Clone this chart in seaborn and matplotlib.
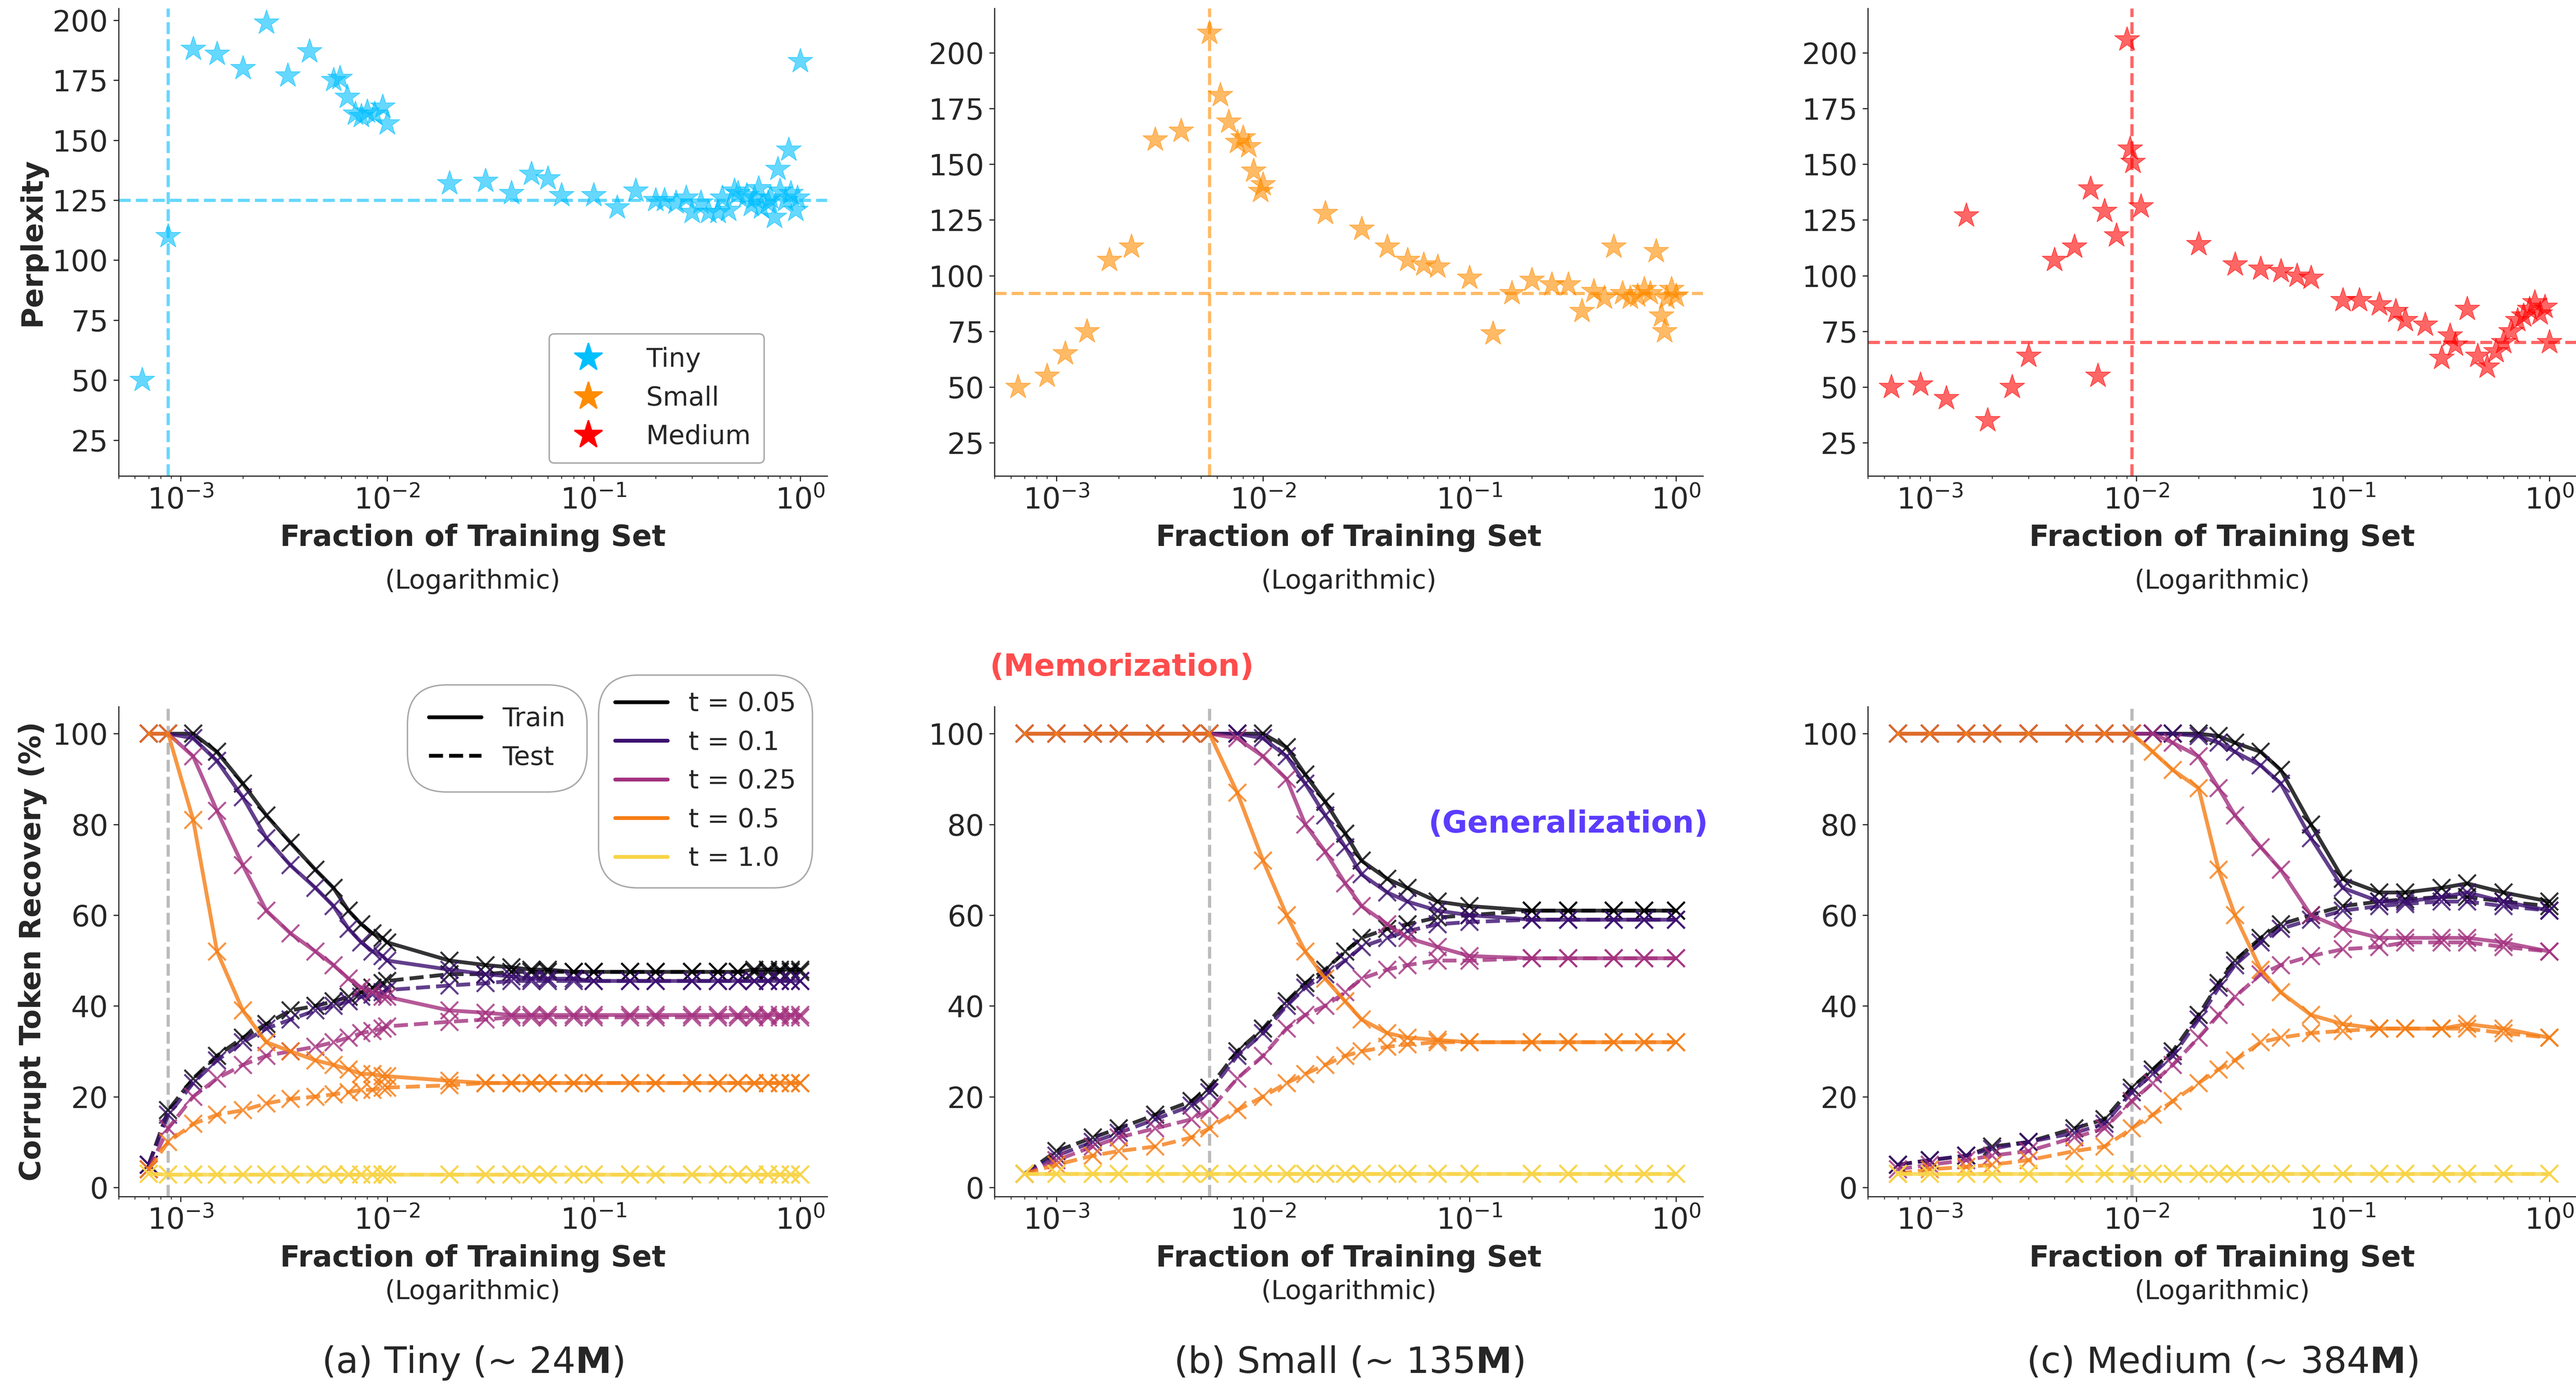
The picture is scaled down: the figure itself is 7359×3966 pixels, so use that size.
import numpy as np
import pandas as pd
import matplotlib
matplotlib.use("Agg")
import matplotlib.pyplot as plt
import seaborn as sns
from matplotlib.lines import Line2D

sns.set_style("ticks")
plt.rcParams['font.family'] = ['DejaVu Sans']

# ---------------- Top row: perplexity scatter ----------------
tiny_x = [6.5e-4,8.7e-4,1.15e-3,1.5e-3,2e-3,2.6e-3,3.3e-3,4.2e-3,5.5e-3,5.9e-3,6.4e-3,7e-3,7.5e-3,8e-3,8.7e-3,9.5e-3,1e-2,
          2e-2,3e-2,4e-2,5e-2,6e-2,7e-2,0.1,0.13,0.16,0.2,0.22,0.25,0.28,0.3,0.33,0.36,0.4,0.42,0.45,0.48,0.5,0.55,0.58,
          0.6,0.63,0.65,0.7,0.72,0.75,0.78,0.8,0.85,0.88,0.9,0.95,0.97,1.0]
tiny_y = [50,110,188,186,180,199,177,187,175,176,168,161,160,162,161,164,157,
          132,133,128,136,134,127,127,122,129,125,125,124,126,120,124,120,120,126,121,129,128,127,123,
          126,130,122,124,126,118,138,129,125,146,128,121,126,183]
small_x = [6.5e-4,9e-4,1.1e-3,1.4e-3,1.8e-3,2.3e-3,3e-3,4e-3,5.5e-3,6.2e-3,6.8e-3,7.5e-3,8e-3,8.5e-3,9e-3,9.7e-3,1e-2,
           2e-2,3e-2,4e-2,5e-2,6e-2,7e-2,0.1,0.13,0.16,0.2,0.25,0.3,0.35,0.4,0.45,0.5,0.55,0.6,0.65,0.7,0.75,0.8,0.85,0.88,0.9,0.95,1.0]
small_y = [50,55,65,75,107,113,161,165,209,181,169,160,162,158,147,138,141,
           128,121,113,107,105,104,99,74,92,98,96,96,84,93,90,113,92,90,91,94,92,111,82,75,90,94,91]
medium_x = [6.5e-4,9e-4,1.2e-3,1.5e-3,1.9e-3,2.5e-3,3e-3,4e-3,5e-3,6e-3,6.5e-3,7e-3,8e-3,9e-3,9.3e-3,9.6e-3,1.05e-2,
            2e-2,3e-2,4e-2,5e-2,6e-2,7e-2,0.1,0.12,0.15,0.18,0.2,0.25,0.3,0.33,0.35,0.4,0.45,0.5,0.55,0.6,0.65,0.7,0.75,0.8,0.85,0.9,0.95,1.0]
medium_y = [50,51,45,127,35,50,64,107,113,139,55,129,118,206,157,151,131,
            114,105,103,102,100,99,89,89,87,84,80,78,63,73,69,85,64,59,66,70,75,80,82,85,88,83,86,70]
ref_h = [125, 92, 70]
ref_v = [8.7e-4, 5.5e-3, 9.5e-3]
model_names = ["Tiny", "Small", "Medium"]
model_colors = ["#00bfff", "#ff8c00", "#ff0000"]

# ---------------- Bottom row: corrupt token recovery ----------------
temps = ["0.05", "0.1", "0.25", "0.5", "1.0"]
t_colors = ["#000004", "#3b0f70", "#a3307e", "#f57d15", "#f8d447"]

tiny_grid = [7e-4,8.7e-4,1.15e-3,1.5e-3,2e-3,2.6e-3,3.4e-3,4.5e-3,5.5e-3,6.5e-3,7.5e-3,8.5e-3,9.5e-3,1e-2,2e-2,3e-2,4e-2,
             5e-2,6e-2,8e-2,0.1,0.15,0.2,0.3,0.4,0.5,0.6,0.7,0.8,0.9,1.0]
tiny_train = {
 "0.05":[100,100,100,96,89,82,76,70,66,61,58,56,55,54,50,49,48.5,48,48,47.5,47.5,47.5,47.5,47.5,47.5,47.5,48,48,48,48,48],
 "0.1": [100,100,99,94,86,77,71,66,62,57,54,52,51,50,48,47,46.5,46,46,46,45.5,45.5,45.5,45.5,45.5,45.5,45.5,45.5,45.5,45.5,45.5],
 "0.25":[100,100,95,83,71,61,56,52,49,46,44,43,42,42,39,38.5,38,38,38,38,38,38,38,38,38,38,38,38,38,38,38],
 "0.5": [100,100,81,52,39,32,30,28,27,26,25,25,24.5,24.5,23.5,23,23,23,23,23,23,23,23,23,23,23,23,23,23,23,23],
 "1.0": [3,2.8,2.8,2.8,2.8,2.8,2.8,2.8,2.8,2.8,2.8,2.8,2.8,2.8,2.8,2.8,2.8,2.8,2.8,2.8,2.8,2.8,2.8,2.8,2.8,2.8,2.8,2.8,2.8,2.8,2.8],
}
tiny_test = {
 "0.05":[5,17,24,29,33,36,39,40,41,42,43,44,45,45.5,47,47,47.5,47.5,47.5,47.5,47.5,47.5,47.5,47.5,47.5,47.5,47.5,47.5,47.5,47.5,47.5],
 "0.1": [5,16,23,28,32,35,37,39,40,41,42,42.5,43,43.5,44.5,45,45.5,45.5,45.5,45.5,45.5,45.5,45.5,45.5,45.5,45.5,45.5,45.5,45.5,45.5,45.5],
 "0.25":[4,13,20,24,27,29,30,31,32,33,34,34.5,35,35.5,36.5,37,37.5,37.5,37.5,37.5,37.5,37.5,37.5,37.5,37.5,37.5,37.5,37.5,37.5,37.5,37.5],
 "0.5": [4,10,14,16,17,18.5,19.5,20,20.5,21,21.5,21.5,22,22,22.5,23,23,23,23,23,23,23,23,23,23,23,23,23,23,23,23],
 "1.0": [3,2.8,2.8,2.8,2.8,2.8,2.8,2.8,2.8,2.8,2.8,2.8,2.8,2.8,2.8,2.8,2.8,2.8,2.8,2.8,2.8,2.8,2.8,2.8,2.8,2.8,2.8,2.8,2.8,2.8,2.8],
}

small_grid = [7e-4,1e-3,1.5e-3,2e-3,3e-3,4.5e-3,5.5e-3,7.5e-3,1e-2,1.3e-2,1.6e-2,2e-2,2.5e-2,3e-2,4e-2,5e-2,7e-2,0.1,0.2,0.3,0.5,0.7,1.0]
small_train = {
 "0.05":[100,100,100,100,100,100,100,100,100,97,91,85,78,72,68,66,63,62,61,61,61,61,61],
 "0.1": [100,100,100,100,100,100,100,100,99,95,89,82,75,69,65,63,61,60,59,59,59,59,59],
 "0.25":[100,100,100,100,100,100,100,99,95,90,80,74,67,62,58,55,53,51,50.5,50.5,50.5,50.5,50.5],
 "0.5": [100,100,100,100,100,100,100,87,72,60,52,46,41,37,34,33,32.5,32,32,32,32,32,32],
 "1.0": [3]*23,
}
small_test = {
 "0.05":[3,8,11,13,16,19,22,30,35,41,45,48,52,55,57,58,59.5,60,61,61,61,61,61],
 "0.1": [3,7,10,12,15,18,21,29,34,40,44,47,50,53,55,56.5,58,58.5,59,59,59,59,59],
 "0.25":[3,6,9,11,13,15,17,24,29,35,38,40,43,46,48,49,50,50,50.5,50.5,50.5,50.5,50.5],
 "0.5": [3,5,7,8,9,11,13,17,20,23,25,27,29,30,31,31.5,32,32,32,32,32,32,32],
 "1.0": [3]*23,
}

medium_grid = [7e-4,1e-3,1.5e-3,2e-3,3e-3,5e-3,7e-3,9.5e-3,1.2e-2,1.5e-2,2e-2,2.5e-2,3e-2,4e-2,5e-2,7e-2,0.1,0.15,0.2,0.3,0.4,0.6,1.0]
medium_train = {
 "0.05":[100,100,100,100,100,100,100,100,100,100,100,99.5,98,96,92,80,68,65,65,66,67,65,63],
 "0.1": [100,100,100,100,100,100,100,100,100,100,99.5,98,96,93,89,77,66,63,63,64,65,63,61],
 "0.25":[100,100,100,100,100,100,100,100,100,98,95,88,82,75,70,60,57,55,55,55,55,54,52],
 "0.5": [100,100,100,100,100,100,100,100,96,92,88,70,60,48,43,38,36,35,35,35,36,35,33],
 "1.0": [3]*23,
}
medium_test = {
 "0.05":[5,6,7,9,10,13,15,22,26,30,38,45,50,55,58,60,62,63,63.5,64,64,63,62],
 "0.1": [5,6,7,8.5,10,12,14,21,25,29,37,44,49,54,57,59,61,62,62.5,63,63,62,61],
 "0.25":[4,5,6,7,8,11,13,19,23,27,33,38,42,47,49,51,52.5,53,54,54,54,53,52],
 "0.5": [3,4,4.5,5,6,8,9,13,16,19,23,26,28,32,33,34,34.5,35,35,35,35,34,33],
 "1.0": [3]*23,
}

captions = ["(a) Tiny (~ 24$\\mathbf{M}$)", "(b) Small (~ 135$\\mathbf{M}$)", "(c) Medium (~ 384$\\mathbf{M}$)"]

scatter_sets = [(tiny_x, tiny_y), (small_x, small_y), (medium_x, medium_y)]
curve_sets = [(tiny_grid, tiny_train, tiny_test), (small_grid, small_train, small_test),
              (medium_grid, medium_train, medium_test)]

fig = plt.figure(figsize=(24.533, 13.22), dpi=300)
lefts = [0.046, 0.386, 0.725]
w = 0.275
tick_fs = 20
lab_fs = 20
sub_fs = 18

for i in range(3):
    # top
    ax = fig.add_axes([lefts[i], 0.657, w, 0.337])
    df = pd.DataFrame({"x": scatter_sets[i][0], "y": scatter_sets[i][1]})
    sns.scatterplot(data=df, x="x", y="y", ax=ax, marker="*", s=320, color=model_colors[i],
                    alpha=0.6, edgecolor=model_colors[i], linewidth=0.5)
    ax.set_xscale("log")
    ax.axhline(ref_h[i], color=model_colors[i], ls="--", lw=2.2, alpha=0.6)
    ax.axvline(ref_v[i], color=model_colors[i], ls="--", lw=2.2, alpha=0.6)
    ax.set_xlim(5e-4, 1.35)
    ax.set_ylim(10, 205 if i == 0 else 220)
    ax.set_yticks([25, 50, 75, 100, 125, 150, 175, 200])
    ax.tick_params(labelsize=tick_fs)
    ax.set_xlabel("Fraction of Training Set", fontsize=lab_fs, fontweight="bold", labelpad=6)
    ax.text(0.5, -0.225, "(Logarithmic)", transform=ax.transAxes, ha="center", va="center", fontsize=sub_fs)
    ax.set_ylabel("Perplexity" if i == 0 else "", fontsize=lab_fs, fontweight="bold")
    sns.despine(ax=ax)
    if i == 0:
        handles = [Line2D([], [], marker="*", ls="", color=c, markersize=20) for c in model_colors]
        ax.legend(handles, model_names, loc="lower right", bbox_to_anchor=(0.93, 0.0), fontsize=sub_fs,
                  framealpha=1, edgecolor="#aaaaaa", handletextpad=1.2, borderpad=0.5)

    # bottom
    ax = fig.add_axes([lefts[i], 0.138, w, 0.353])
    grid, tr, te = curve_sets[i]
    rows = []
    for t in temps:
        for xv, a, b in zip(grid, tr[t], te[t]):
            rows.append({"x": xv, "y": a, "t": t, "split": "Train"})
            rows.append({"x": xv, "y": b, "t": t, "split": "Test"})
    d = pd.DataFrame(rows)
    for t, c in zip(temps, t_colors):
        for split, ls in [("Train", "-"), ("Test", "--")]:
            sub = d[(d.t == t) & (d.split == split)]
            sns.lineplot(data=sub, x="x", y="y", ax=ax, color=c, linestyle=ls, lw=2.6, alpha=0.8,
                         marker="x", markersize=12, markeredgewidth=1.4, markeredgecolor=c)
    ax.set_xscale("log")
    ax.axvline(ref_v[i], color="#bbbbbb", ls="--", lw=2.2, zorder=0)
    ax.set_xlim(5e-4, 1.35)
    ax.set_ylim(-2, 106)
    ax.set_yticks([0, 20, 40, 60, 80, 100])
    ax.tick_params(labelsize=tick_fs)
    ax.set_xlabel("Fraction of Training Set", fontsize=lab_fs, fontweight="bold", labelpad=6)
    ax.text(0.5, -0.195, "(Logarithmic)", transform=ax.transAxes, ha="center", va="center", fontsize=sub_fs)
    ax.set_ylabel("Corrupt Token Recovery (%)" if i == 0 else "", fontsize=lab_fs, fontweight="bold")
    sns.despine(ax=ax)
    ax.text(0.5, -0.34, captions[i], transform=ax.transAxes, ha="center", va="center", fontsize=25)
    if i == 0:
        h1 = [Line2D([], [], color="black", lw=2.6, ls="-"), Line2D([], [], color="black", lw=2.6, ls="--")]
        l1 = ax.legend(h1, ["Train", "Test"], loc="upper left", bbox_to_anchor=(0.39, 1.07), fontsize=sub_fs,
                       framealpha=1, edgecolor="#aaaaaa", fancybox=True, borderpad=0.8)
        l1.get_frame().set_boxstyle("round", pad=0.02, rounding_size=1.5)
        ax.add_artist(l1)
        h2 = [Line2D([], [], color=c, lw=2.6) for c in t_colors]
        l2 = ax.legend(h2, [f"t = {t}" for t in temps], loc="upper left", bbox_to_anchor=(0.66, 1.09),
                       fontsize=sub_fs, framealpha=1, edgecolor="#aaaaaa", fancybox=True, borderpad=0.6)
        l2.get_frame().set_boxstyle("round", pad=0.02, rounding_size=1.5)
    if i == 1:
        ax.text(0.18, 1.08, "(Memorization)", transform=ax.transAxes, ha="center", va="center",
                fontsize=21, fontweight="bold", color="#ff4d4d")
        ax.text(0.81, 0.76, "(Generalization)", transform=ax.transAxes, ha="center", va="center",
                fontsize=21, fontweight="bold", color="#5b3cff")

fig.savefig("out.png", dpi=300)
